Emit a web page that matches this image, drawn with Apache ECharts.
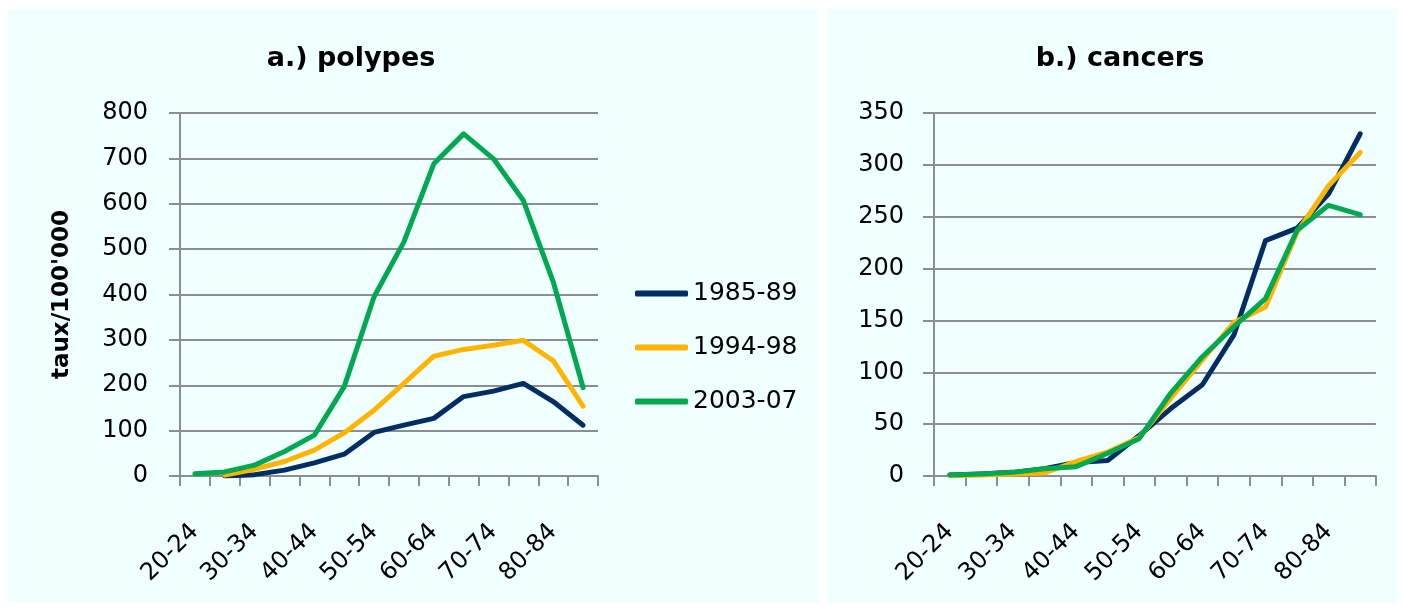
<!DOCTYPE html>
<html>
<head>
<meta charset="utf-8">
<script src="https://cdn.jsdelivr.net/npm/echarts@6/dist/echarts.min.js"></script>
<style>
  html, body { margin: 0; padding: 0; background: #ffffff; }
  #chart { width: 1402px; height: 607px; }
</style>
</head>
<body>
<div id="chart"></div>
<script>
// Age groups (5-year bands)
const ageGroups = ['20-24', '25-29', '30-34', '35-39', '40-44', '45-49', '50-54',
                   '55-59', '60-64', '65-69', '70-74', '75-79', '80-84', '85+'];
const periods = ['1985-89', '1994-98', '2003-07'];

// a.) polypes — rate per 100'000
const polypes8589 = [null, 0, 3, 13, 29, 48, 96, 112, 127, 175, 187, 204, 164, 112];
const polypes9498 = [null, 2, 15, 32, 57, 95, 145, 204, 264, 279, 288, 299, 254, 154];
const polypes0307 = [5, 9, 24, 54, 90, 197, 395, 516, 688, 754, 699, 607, 428, 195];

// b.) cancers — rate per 100'000
const cancers8589 = [1, 2, 3.5, 7, 13, 15, 39, 65, 88, 136, 227, 239, 272, 330];
const cancers9498 = [0.5, 1, 2, 3, 14, 23, 37, 75, 112, 148, 163, 235, 280, 312];
const cancers0307 = [1, 2, 3.5, 7, 9, 22, 36, 80, 115, 144, 171, 237, 261, 252];

const colors = ['#002D62', '#FFB400', '#00A84F'];
const FONT = 'DejaVu Sans';
const GRID_GREY = '#8A8E92';

const chart = echarts.init(document.getElementById('chart'), null, { renderer: 'canvas' });

function xAxisFor(gridIndex) {
  return {
    type: 'category',
    gridIndex: gridIndex,
    data: ageGroups,
    boundaryGap: true,
    axisLine: { lineStyle: { color: GRID_GREY, width: 2 } },
    axisTick: { show: true, length: 10, interval: 0, alignWithLabel: false,
                lineStyle: { color: GRID_GREY, width: 2 } },
    axisLabel: { interval: 1, rotate: 45, margin: 52, color: '#000',
                 fontFamily: FONT, fontSize: 24 },
    splitLine: { show: false }
  };
}

function yAxisFor(gridIndex, max, step, margin, name) {
  return {
    type: 'value',
    gridIndex: gridIndex,
    min: 0, max: max, interval: step,
    name: name || '',
    nameLocation: 'middle',
    nameRotate: 90,
    nameGap: 106,
    nameTextStyle: { fontFamily: FONT, fontSize: 23, fontWeight: 'bold', color: '#000' },
    axisLine: { show: true, lineStyle: { color: GRID_GREY, width: 2 } },
    axisTick: { show: true, length: 11, lineStyle: { color: GRID_GREY, width: 2 } },
    axisLabel: { margin: margin, color: '#000', fontFamily: FONT, fontSize: 24 },
    splitLine: { show: true, lineStyle: { color: GRID_GREY, width: 2 } }
  };
}

function lineSeries(name, data, xi, yi, ci) {
  return {
    name: name,
    type: 'line',
    xAxisIndex: xi,
    yAxisIndex: yi,
    data: data,
    showSymbol: false,
    symbol: 'none',
    connectNulls: false,
    animation: false,
    lineStyle: { color: colors[ci], width: 5, cap: 'round', join: 'round' },
    itemStyle: { color: colors[ci] }
  };
}

const option = {
  backgroundColor: '#ffffff',
  animation: false,
  graphic: [
    { type: 'rect', left: 8, top: 9, z: -10,
      shape: { width: 811, height: 594 }, style: { fill: '#F0FFFF' } },
    { type: 'rect', left: 827, top: 9, z: -10,
      shape: { width: 570, height: 594 }, style: { fill: '#F0FFFF' } }
  ],
  title: [
    { text: 'a.) polypes', left: 346, top: 40, textAlign: 'center',
      textStyle: { fontFamily: FONT, fontSize: 27, fontWeight: 'bold', color: '#000' } },
    { text: 'b.) cancers', left: 1115, top: 40, textAlign: 'center',
      textStyle: { fontFamily: FONT, fontSize: 27, fontWeight: 'bold', color: '#000' } }
  ],
  legend: {
    orient: 'vertical',
    left: 630,
    top: 276,
    itemWidth: 53,
    itemHeight: 6,
    itemGap: 29,
    icon: 'roundRect',
    data: periods,
    textStyle: { fontFamily: FONT, fontSize: 25, color: '#000' }
  },
  grid: [
    { left: 180, top: 113, width: 418, height: 363, containLabel: false },
    { left: 934, top: 113, width: 442, height: 363, containLabel: false }
  ],
  xAxis: [xAxisFor(0), xAxisFor(1)],
  yAxis: [
    yAxisFor(0, 800, 100, 32, "taux/100'000"),
    yAxisFor(1, 350, 50, 30)
  ],
  series: [
    lineSeries(periods[0], polypes8589, 0, 0, 0),
    lineSeries(periods[1], polypes9498, 0, 0, 1),
    lineSeries(periods[2], polypes0307, 0, 0, 2),
    lineSeries(periods[0], cancers8589, 1, 1, 0),
    lineSeries(periods[1], cancers9498, 1, 1, 1),
    lineSeries(periods[2], cancers0307, 1, 1, 2)
  ]
};

chart.setOption(option);
</script>
</body>
</html>
